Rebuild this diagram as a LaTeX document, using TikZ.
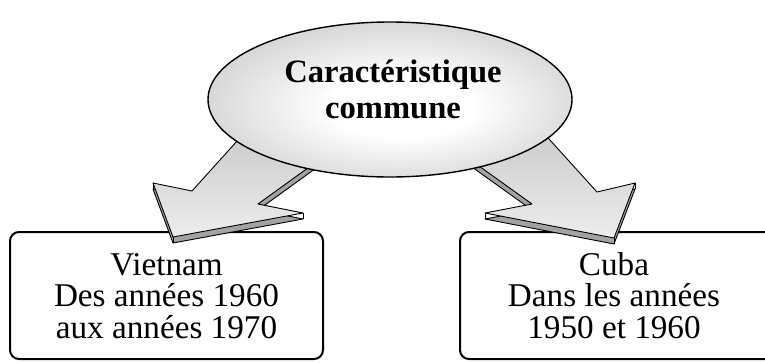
\documentclass[tikz,border=0pt]{standalone}
\usepackage{fontspec}
\setmainfont{Liberation Serif}
\usetikzlibrary{shapes.geometric}
\pgfdeclareradialshading{ellsh}{\pgfpoint{2bp}{-3bp}}{color(0bp)=(white); color(10bp)=(white); color(27bp)=(black!16); color(50bp)=(black!16)}
\begin{document}
\begin{tikzpicture}[x=1pt,y=-1pt,
  boxst/.style={draw, line width=2pt, rounded corners=9pt, fill=white, inner sep=0pt},
  boxtext/.style={font=\fontsize{33.2}{33.2}\selectfont, inner sep=0pt, anchor=base},
  titlest/.style={font=\fontsize{32.6}{32.6}\selectfont\bfseries, inner sep=0pt, anchor=base},
  stripst/.style={draw, line width=0.9pt, fill=black!36, line join=round},
  facest/.style={draw, line width=0.9pt, top color=black!22, bottom color=black!7, line join=round},
  ellst/.style={ellipse, draw, line width=1.4pt, shading=ellsh, inner sep=0pt}
]
\useasboundingbox (0,0) rectangle (765,362);
\clip (0,0) rectangle (765,362);

% boxes
\node[boxst, minimum width=313pt, minimum height=127pt] (vn) at (166.5,295.5) {};
\node[boxst, minimum width=330pt, minimum height=127pt] (cu) at (625,295.5) {};

\node[boxtext] (vn1) at (166.5,275) {Vietnam};
\node[boxtext] (vn2) at (166.5,306.5) {Des années 1960};
\node[boxtext] (vn3) at (166.5,338) {aux années 1970};
\node[boxtext] (cu1) at (614,275) {Cuba};
\node[boxtext] (cu2) at (614,306.5) {Dans les années};
\node[boxtext] (cu3) at (614,338) {1950 et 1960};

% left arrow
\coordinate (L1) at (256,120);
\coordinate (L2) at (192,191);
\coordinate (L3) at (153,183);
\coordinate (L4) at (173,237);
\coordinate (L5) at (303,213);
\coordinate (L6) at (258,204);
\coordinate (L7) at (330,152);
\path[stripst] ([yshift=-6pt]L1) -- ([yshift=-6pt]L2) -- ([yshift=-6pt]L3) -- ([yshift=-6pt]L4)
  -- ([yshift=-6pt]L5) -- ([yshift=-6pt]L6) -- ([yshift=-6pt]L7) -- cycle;
\draw[line width=0.9pt] (L3) -- ([yshift=-6pt]L3) (L4) -- ([yshift=-6pt]L4) (L5) -- ([yshift=-6pt]L5);
\path[facest] (L1) -- (L2) -- (L3) -- (L4) -- (L5) -- (L6) -- (L7) -- cycle;

% right arrow
\coordinate (R1) at (530,118);
\coordinate (R2) at (597,192);
\coordinate (R3) at (635,183);
\coordinate (R4) at (614,238);
\coordinate (R5) at (485,213);
\coordinate (R6) at (532,204);
\coordinate (R7) at (458,151);
\path[stripst] ([yshift=-6pt]R1) -- ([yshift=-6pt]R2) -- ([yshift=-6pt]R3) -- ([yshift=-6pt]R4)
  -- ([yshift=-6pt]R5) -- ([yshift=-6pt]R6) -- ([yshift=-6pt]R7) -- cycle;
\draw[line width=0.9pt] (R3) -- ([yshift=-6pt]R3) (R4) -- ([yshift=-6pt]R4) (R5) -- ([yshift=-6pt]R5);
\path[facest] (R1) -- (R2) -- (R3) -- (R4) -- (R5) -- (R6) -- (R7) -- cycle;

% ellipse
\node[ellst, minimum width=364pt, minimum height=155pt] (car) at (390,99.5) {};
\node[titlest] (t1) at (393,82) {Caractéristique};
\node[titlest] (t2) at (393,118) {commune};
\end{tikzpicture}
\end{document}
